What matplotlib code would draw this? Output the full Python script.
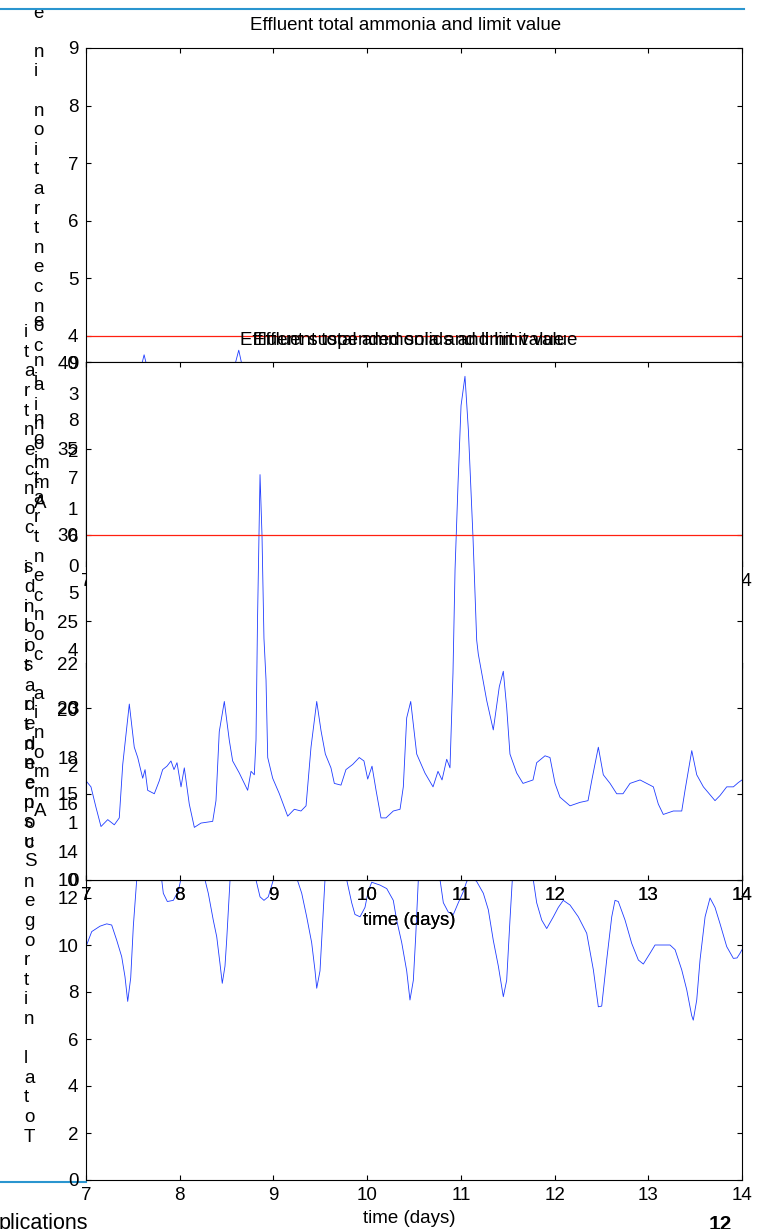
import matplotlib
matplotlib.use('Agg')
import matplotlib.pyplot as plt
from matplotlib.lines import Line2D
import numpy as np

plt.rcParams['font.family'] = ['Liberation Sans', 'DejaVu Sans']

W, H = 764, 1229
FS = 13.5

# ---- data (time in days) ----
days = list(range(7, 15))

# effluent suspended solids (g SS/m3)
ss_day = [7.000, 7.053, 7.107, 7.160, 7.232, 7.302, 7.355, 7.392, 7.462, 7.515,
          7.552, 7.605, 7.630, 7.658, 7.729, 7.782, 7.818, 7.864, 7.907, 7.939,
          7.971, 8.014, 8.049, 8.102, 8.156, 8.227, 8.352, 8.387, 8.422, 8.476,
          8.529, 8.565, 8.636, 8.725, 8.761, 8.796, 8.814, 8.830, 8.857, 8.878,
          8.899, 8.921, 8.939, 8.992, 9.063, 9.152, 9.223, 9.294, 9.348, 9.401,
          9.462, 9.508, 9.554, 9.614, 9.650, 9.721, 9.774, 9.846, 9.916, 9.966,
          10.006, 10.052, 10.095, 10.148, 10.201, 10.279, 10.351, 10.386, 10.422, 10.465,
          10.529, 10.617, 10.703, 10.756, 10.799, 10.849, 10.884, 10.916, 10.938, 10.970,
          11.002, 11.044, 11.080, 11.130, 11.169, 11.186, 11.276, 11.346, 11.410, 11.453,
          11.489, 11.524, 11.596, 11.663, 11.770, 11.809, 11.898, 11.951, 12.005, 12.058,
          12.165, 12.271, 12.357, 12.396, 12.467, 12.520, 12.592, 12.663, 12.730, 12.805,
          12.912, 12.983, 13.054, 13.107, 13.160, 13.267, 13.357, 13.392, 13.464, 13.517,
          13.588, 13.712, 13.766, 13.837, 13.908, 13.961, 14.000]
ss_val = [15.75, 15.4, 14.2, 13.1, 13.5, 13.2, 13.6, 16.7, 20.2, 17.7,
          17.1, 15.9, 16.4, 15.2, 15.0, 15.75, 16.4, 16.6, 16.9, 16.4,
          16.8, 15.4, 16.5, 14.4, 13.05, 13.3, 13.4, 14.6, 18.6, 20.35,
          18.1, 16.9, 16.2, 15.2, 16.3, 16.1, 18.1, 25.0, 33.5, 30.0,
          24.0, 21.6, 17.1, 15.9, 15.0, 13.7, 14.1, 14.0, 14.3, 17.7,
          20.35, 18.65, 17.3, 16.5, 15.6, 15.5, 16.4, 16.7, 17.1, 16.9,
          15.85, 16.6, 15.2, 13.6, 13.6, 14.0, 14.1, 15.4, 19.4, 20.35,
          17.3, 16.2, 15.4, 16.3, 15.8, 17.0, 16.5, 22.0, 28.0, 33.0,
          37.5, 39.2, 36.1, 29.8, 23.9, 23.1, 20.4, 18.7, 21.2, 22.1,
          20.0, 17.3, 16.2, 15.6, 15.8, 16.8, 17.2, 17.1, 15.6, 14.8,
          14.3, 14.5, 14.6, 15.75, 17.7, 16.1, 15.6, 15.0, 15.0, 15.6,
          15.8, 15.6, 15.4, 14.4, 13.8, 14.0, 14.0, 15.2, 17.5, 16.1,
          15.4, 14.6, 14.9, 15.4, 15.4, 15.65, 15.8]

# effluent total nitrogen (g N/m3)
tn_day = [7.000, 7.061, 7.149, 7.221, 7.274, 7.328, 7.381, 7.416, 7.445, 7.477,
          7.505, 7.541, 7.587, 7.662, 7.736, 7.808, 7.825, 7.868, 7.932, 7.985,
          8.011, 8.131, 8.270, 8.305, 8.358, 8.395, 8.430, 8.454, 8.483, 8.501,
          8.537, 8.601, 8.675, 8.750, 8.814, 8.857, 8.899, 8.945, 8.999, 9.124,
          9.255, 9.302, 9.355, 9.408, 9.444, 9.462, 9.497, 9.532, 9.550, 9.604,
          9.668, 9.732, 9.782, 9.835, 9.870, 9.924, 9.977, 10.012, 10.049, 10.137,
          10.209, 10.279, 10.315, 10.369, 10.422, 10.457, 10.493, 10.518, 10.546, 10.607,
          10.671, 10.735, 10.778, 10.813, 10.866, 10.920, 10.973, 11.026, 11.062, 11.108,
          11.169, 11.240, 11.293, 11.346, 11.400, 11.453, 11.489, 11.524, 11.549, 11.610,
          11.663, 11.717, 11.773, 11.809, 11.863, 11.916, 11.987, 12.040, 12.093, 12.165,
          12.253, 12.343, 12.414, 12.467, 12.503, 12.556, 12.610, 12.645, 12.680, 12.752,
          12.823, 12.894, 12.947, 13.019, 13.072, 13.232, 13.286, 13.357, 13.410, 13.463,
          13.480, 13.517, 13.552, 13.606, 13.659, 13.712, 13.766, 13.837, 13.908, 13.947,
          13.979, 14.000]
tn_val = [9.93, 10.57, 10.8, 10.9, 10.85, 10.2, 9.5, 8.65, 7.6, 8.6,
          10.8, 12.77, 14.5, 16.0, 14.5, 12.77, 12.2, 11.85, 11.9, 12.3,
          12.77, 14.5, 12.77, 12.2, 11.06, 10.35, 9.2, 8.37, 9.1, 10.2,
          12.77, 15.5, 16.5, 15.0, 12.77, 12.05, 11.9, 12.05, 12.77, 14.5,
          12.77, 12.2, 11.2, 10.1, 8.9, 8.16, 8.9, 11.5, 12.77, 15.0,
          16.0, 14.5, 12.77, 11.8, 11.3, 11.2, 11.6, 12.3, 12.67, 12.55,
          12.4, 11.9, 11.06, 10.1, 8.9, 7.66, 8.5, 10.35, 12.77, 15.0,
          15.5, 14.5, 12.77, 11.8, 11.4, 11.3, 11.8, 12.27, 12.7, 12.9,
          12.7, 12.2, 11.5, 10.2, 9.1, 7.8, 8.5, 11.06, 12.77, 15.5,
          16.2, 15.0, 12.77, 11.8, 11.06, 10.7, 11.2, 11.6, 11.9, 11.7,
          11.2, 10.5, 8.94, 7.37, 7.4, 9.36, 11.2, 11.9, 11.85, 11.06,
          10.07, 9.36, 9.19, 9.65, 10.0, 10.0, 9.8, 8.94, 8.1, 7.0,
          6.8, 7.66, 9.36, 11.2, 12.0, 11.6, 10.9, 9.93, 9.43, 9.45,
          9.65, 9.8]

# effluent total ammonia (g N/m3)
nh_day = [7.0, 7.3, 7.5, 7.58, 7.62, 7.66, 7.8, 8.0, 8.3, 8.5,
          8.59, 8.63, 8.67, 8.8, 9.0, 9.3, 9.5, 9.62, 9.65, 9.7,
          9.85, 10.0, 10.3, 10.5, 10.63, 10.7, 10.9, 11.1, 11.3, 11.5,
          11.65, 11.75, 12.0, 12.3, 12.5, 12.65, 12.8, 13.0, 13.3, 13.5,
          13.65, 13.8, 14.0]
nh_val = [2.0, 1.2, 2.5, 3.4, 3.67, 3.4, 2.6, 2.2, 1.3, 2.6,
          3.5, 3.75, 3.45, 2.8, 2.3, 1.4, 2.6, 3.45, 3.52, 3.3,
          2.7, 2.3, 1.5, 2.5, 3.3, 3.1, 2.5, 2.9, 2.4, 1.8,
          3.0, 2.6, 2.0, 1.1, 1.9, 2.8, 2.2, 1.8, 1.0, 1.8,
          2.6, 2.1, 1.7]

nh_limit = 4
ss_limit = 30
tn_limit = 18

nh_title = 'Effluent total ammonia and limit value'
ss_title = 'Effluent suspended solids and limit value'
nh_ylabel = 'Ammonia concentration in effluent'
ss_ylabel = 'Suspended solids concentration (g SS/m3)'
tn_ylabel = 'Total nitrogen concentration in effluent'

BLUE = '#1f3cff'
RED = '#ff2010'


def px_box(left, top, right, bottom):
    return [left / W, 1 - bottom / H, (right - left) / W, (bottom - top) / H]


def fx(x):
    return x / W


def fy(y):
    return 1 - y / H


def matlab_axes(fig, rect, ylim, yticks):
    ax = fig.add_axes(rect)
    ax.set_xlim(7, 14)
    ax.set_ylim(*ylim)
    ax.set_xticks(days)
    ax.set_yticks(yticks)
    ax.tick_params(direction='in', length=3.6, width=0.8, top=True, right=True,
                   labelsize=FS)
    ax.tick_params(axis='x', pad=4.7)
    ax.tick_params(axis='y', pad=5.5)
    for s in ax.spines.values():
        s.set_linewidth(0.8)
    return ax


def stacked(fig, text, x, y0, clip=None, step=19.6):
    # letters upright, one above the other, reading upwards
    for k, ch in enumerate(text):
        y = y0 - k * step
        if clip is not None and y < clip:
            break
        fig.text(fx(x), fy(y), ch, ha='left', va='center', fontsize=FS)


fig = plt.figure(figsize=(W / 100, H / 100), dpi=100)

# slide rules
fig.add_artist(Line2D([0, 744 / W], [fy(9.3), fy(9.3)], color='#2a95cf', lw=1.5, zorder=5))
fig.add_artist(Line2D([0, 86 / W], [fy(1181.5), fy(1181.5)], color='#2a95cf', lw=1.5, zorder=-1))

# total nitrogen
ax_tn = matlab_axes(fig, px_box(86, 663, 742, 1180), (0, 22), range(0, 23, 2))
ax_tn.plot(tn_day, tn_val, color=BLUE, lw=0.6)
ax_tn.axhline(tn_limit, color=RED, lw=0.9)

# ammonia (upper copy)
ax_a1 = matlab_axes(fig, px_box(86, 48, 742, 566), (0, 9), range(0, 10))
ax_a1.plot(nh_day, nh_val, color=BLUE, lw=0.6)
ax_a1.axhline(nh_limit, color=RED, lw=0.9)

# ammonia (lower copy, hidden behind suspended solids)
ax_a2 = matlab_axes(fig, px_box(86, 362.5, 742, 880), (0, 9), range(0, 10))
ax_a2.plot(nh_day, nh_val, color=BLUE, lw=0.6)
ax_a2.axhline(nh_limit, color=RED, lw=0.9)

# suspended solids
ax_ss = matlab_axes(fig, px_box(86, 362.5, 742, 880), (10, 40), range(10, 41, 5))
ax_ss.plot(ss_day, ss_val, color=BLUE, lw=0.6)
ax_ss.axhline(ss_limit, color=RED, lw=0.9)

# titles
fig.text(fx(406), fy(29.5), nh_title, ha='center', va='baseline', fontsize=FS)
fig.text(fx(409), fy(345), nh_title, ha='center', va='baseline', fontsize=FS)
fig.text(fx(409), fy(345), ss_title, ha='center', va='baseline', fontsize=FS)

# x labels
fig.text(fx(409), fy(925), 'time (days)', ha='center', va='baseline', fontsize=FS)
fig.text(fx(409), fy(925), 'time (days)', ha='center', va='baseline', fontsize=FS)
fig.text(fx(409), fy(1223), 'time (days)', ha='center', va='baseline', fontsize=FS)

# y labels, letters stacked
stacked(fig, tn_ylabel, 24, 1137, clip=555)
stacked(fig, ss_ylabel, 24, 862, clip=316)
stacked(fig, nh_ylabel, 33.5, 503)
stacked(fig, nh_ylabel, 33.5, 812, clip=318)

# footer
fig.text(fx(-1), fy(1213), 'plications', ha='left', va='top', fontsize=15.5)
fig.text(fx(720), fy(1215), '12', ha='center', va='top', fontsize=15, fontweight='bold')

fig.savefig('out.png', dpi=100)
